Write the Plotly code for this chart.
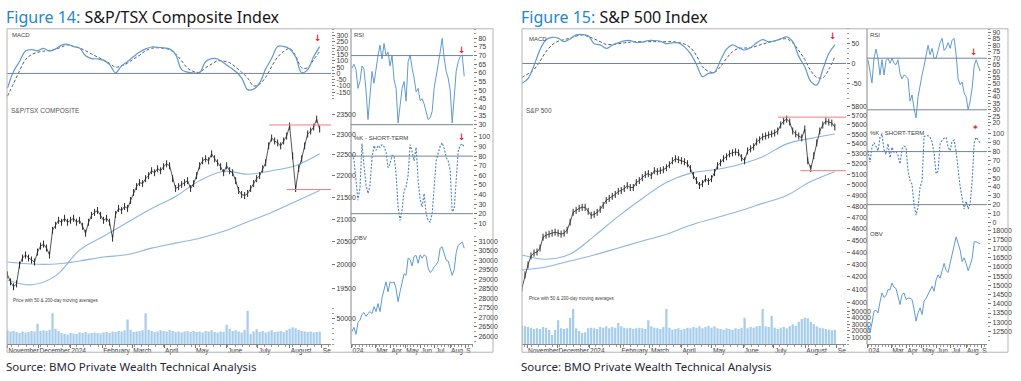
import pandas as pd
import plotly.graph_objects as go

W, H = 1021, 381


def fx(px):
    return px / W


def fy(py):
    return 1 - py / H


# ---------------- Figure 14: S&P/TSX Composite ----------------
tsx_price = [19790, 19642, 19538, 19600, 20000, 20149, 20213, 20149, 20106, 20063,
             20278, 20407, 20450, 20364, 20213, 20756, 20867, 20978, 20934, 21023,
             20934, 20978, 21023, 20934, 20978, 20845, 20690, 20934, 21089, 21156,
             21201, 21089, 20978, 21023, 20934, 20581, 21111, 21246, 21201, 21291,
             21246, 21428, 21611, 21749, 21841, 21818, 21934, 22004, 22121, 22074,
             22168, 22121, 22216, 22286, 22239, 21934, 21703, 21749, 21795, 21841,
             21888, 21703, 21818, 22004, 22239, 22357, 22405, 22357, 22524, 22405,
             22310, 22216, 22074, 22239, 22121, 22074, 21888, 21657, 21565, 21542,
             21588, 21703, 21818, 21934, 22004, 22168, 22310, 22716, 22909, 22836,
             22788, 22716, 22836, 22957, 23203, 22477, 21703, 22168, 22405, 22716,
             23006, 23080, 23178, 23376, 23129]
tsx_ma50 = [19683, 19580, 19768, 20321, 20625, 20934, 21246, 21519, 21888, 22109,
            22039, 22121, 22239, 22524]
tsx_ma200 = [20063, 20020, 20020, 20085, 20170, 20224, 20364, 20472, 20581, 20734,
             20945, 21156, 21406, 21657]
tsx_volume_k = [27, 25, 26, 24, 22, 25, 23, 24, 26, 25, 40, 26, 27, 26, 28, 60, 30, 26, 22, 20,
                19, 22, 21, 20, 23, 22, 24, 21, 22, 23, 22, 21, 23, 24, 22, 25, 24, 26, 25, 27,
                48, 28, 24, 25, 26, 27, 60, 28, 26, 24, 25, 27, 26, 25, 27, 26, 24, 25, 23, 25,
                26, 24, 26, 24, 25, 23, 26, 25, 27, 24, 23, 25, 24, 38, 30, 26, 27, 25, 23, 28,
                65, 20, 25, 29, 24, 26, 23, 25, 27, 24, 25, 26, 24, 27, 30, 33, 31, 28, 26, 25,
                24, 25, 23, 24, 25]
tsx_macd = [-116, 16, 95, 179, 190, 180, 200, 178, 195, 225, 232, 213, 202, 140, 118, 116,
            104, 70, 5, 60, 95, 134, 170, 195, 210, 208, 203, 195, 150, 30, 10, 3, 5, 95,
            118, 115, 85, 50, 15, -35, -129, -125, -75, 35, 120, 215, 215, 195, 130, 5, 30,
            134, 213]
tsx_signal = [-181, -80, 20, 110, 150, 168, 177, 183, 192, 210, 226, 215, 202, 180, 155, 130,
              108, 80, 50, 60, 82, 115, 145, 180, 200, 204, 200, 190, 155, 100, 42, 15, 10,
              45, 75, 100, 98, 85, 50, 10, -37, -100, -85, -30, 55, 130, 175, 198, 140, 45,
              45, 110, 175]
tsx_rsi = [62.7, 65, 62, 51, 55, 64, 62, 50, 33, 49, 60.8, 54, 63, 70, 76, 68, 77, 70, 72, 64,
           70, 56, 51, 31, 41, 51, 55, 43.6, 66.5, 70.4, 62.7, 57, 49, 51, 44, 45, 42, 38, 33,
           34, 37.6, 51, 57, 65, 72, 80, 68.5, 60.8, 57, 50, 31, 45, 60.8, 66.5, 69.4, 70.4, 58]
tsx_k = [82, 76, 55, 34, 47, 93, 70, 50, 41, 50, 78, 91, 86, 91, 89, 92, 90, 84, 68, 72, 81, 80,
         62, 27, 13, 24, 44, 48, 60, 92, 85, 75, 89, 55, 35, 27, 41, 20, 13, 11, 20, 50, 75, 83,
         90, 94, 88, 79, 75, 65, 22, 25, 62, 85, 91, 93, 89]
tsx_obv = [26260, 26470, 26100, 26730, 26850, 27150, 27250, 27050, 27200, 27300,
           27200, 27560, 27300, 27720, 27300, 28030, 28450, 28860, 28340, 28860,
           28800, 28860, 28500, 27820, 28350, 28860, 29290, 29200, 30110, 30030,
           29700, 30200, 30250, 29840, 30280, 30100, 30280, 30200, 29580, 29350,
           29450, 29650, 29760, 29930, 30630, 30700, 30370, 30000, 29950, 29600,
           29200, 29500, 30400, 30780, 30880, 30950, 30630]
tsx_levels = [23230, 21680]
tsx_level_starts = ["2024-07-12", "2024-07-29"]
tsx_price_ticks = [19500, 20000, 20500, 21000, 21500, 22000, 22500, 23000, 23500]
tsx_macd_ticks = [-150, -100, -50, 0, 50, 100, 150, 200, 250, 300]
tsx_vol_ticks = [50000]
tsx_obv_ticks = [26000, 26500, 27000, 27500, 28000, 28500, 29000, 29500, 30000, 30500, 31000]
tsx_rsi_ticks = [30, 35, 40, 45, 50, 55, 60, 65, 70, 75, 80]

# ---------------- Figure 15: S&P 500 ----------------
spx_price = [4114, 4216, 4296, 4369, 4393, 4402, 4435, 4527, 4544, 4553,
             4562, 4570, 4562, 4553, 4562, 4587, 4657, 4745, 4763, 4781,
             4790, 4790, 4754, 4718, 4727, 4745, 4772, 4808, 4853, 4871,
             4890, 4908, 4936, 4945, 4963, 4991, 4973, 4973, 5020, 5039,
             5067, 5096, 5105, 5086, 5134, 5124, 5134, 5143, 5163, 5192,
             5231, 5251, 5241, 5231, 5221, 5202, 5153, 5086, 5039, 4991,
             5010, 5057, 5029, 5057, 5115, 5182, 5212, 5251, 5271, 5300,
             5310, 5320, 5310, 5261, 5231, 5330, 5350, 5371, 5421, 5442,
             5472, 5482, 5493, 5503, 5513, 5534, 5597, 5639, 5660, 5628,
             5534, 5503, 5482, 5462, 5555, 5231, 5153, 5281, 5411, 5534,
             5597, 5639, 5628, 5618, 5576]
spx_ma50 = [4377, 4342, 4385, 4536, 4709, 4871, 5020, 5110, 5143, 5192, 5271, 5401, 5457, 5503]
spx_ma200 = [4255, 4279, 4328, 4377, 4435, 4494, 4553, 4631, 4692, 4754, 4826, 4899, 5029, 5124]
spx_volume_k = [28, 27, 26, 25, 23, 24, 23, 26, 25, 22, 14, 22, 36, 24, 23, 24, 40, 53, 24, 20,
                17, 18, 24, 25, 24, 23, 26, 25, 27, 24, 26, 25, 32, 27, 25, 24, 25, 23, 24, 25,
                24, 23, 36, 27, 25, 24, 23, 26, 53, 25, 22, 23, 24, 22, 23, 25, 24, 26, 25, 27,
                24, 26, 28, 25, 27, 24, 23, 22, 24, 23, 22, 24, 23, 25, 40, 24, 26, 25, 27, 28,
                53, 27, 26, 43, 25, 23, 25, 26, 24, 27, 30, 28, 34, 38, 40, 39, 34, 30, 27, 25,
                24, 23, 22, 21, 22]
spx_macd = [-50, -38, -5, 35, 60, 66, 64, 55, 62, 72, 73, 70, 50, 47, 38, 46, 52, 57, 58, 53,
            54, 58, 58, 56, 50, 52, 52, 42, 25, -2, -33, -25, -22, 8, 36, 47, 40, 34, 40, 52,
            60, 55, 57, 62, 67, 55, 18, -8, -45, -54, -15, 25, 47]
spx_signal = [-35, -26, -15, 6, 30, 47, 56, 60, 64, 69, 72, 68, 62, 55, 48, 48, 50, 52, 54, 55,
              55, 55, 55, 55, 55, 55, 53, 49, 40, 20, -8, -20, -22, -8, 13, 30, 38, 39, 40, 44,
              49, 53, 57, 61, 62, 52, 33, 10, -18, -35, -36, -15, 17]
spx_rsi = [68.8, 59.8, 50.8, 70, 77, 70, 57, 68.8, 57, 68, 70, 66, 70, 66, 65, 68.8, 58, 54, 57,
           56, 54, 36.7, 41.5, 31, 23.8, 40, 50, 57, 64, 72, 80, 72.6, 77.6, 70, 70, 76, 82, 85.4,
           76, 78, 82, 77.6, 84, 85.4, 72.6, 54, 49.5, 51.5, 43, 40, 30, 36.7, 47, 64, 68.8, 64, 60]
spx_k = [81, 68, 85, 90, 86, 81, 96, 100, 82, 77, 89, 73, 85, 79, 80, 76, 66, 83, 86, 85, 58, 47,
         43, 20, 8, 17, 40, 47, 97, 98, 98, 96, 91, 78, 55, 58, 89, 93, 95, 96, 85, 81, 92, 93, 80,
         58, 40, 28, 15, 24, 15, 21, 47, 90, 96, 93, 90]
spx_obv = [12790, 12430, 12950, 13600, 13650, 13500, 14100, 14590, 14350, 14450,
           14770, 14770, 15130, 14900, 14830, 14410, 13960, 14500, 14590, 14230,
           14320, 14300, 14230, 13700, 13060, 13510, 13780, 13420, 14140, 14300,
           14500, 14700, 14950, 14680, 15300, 15570, 15390, 15800, 16200, 15800,
           15700, 16200, 16700, 17300, 17640, 17280, 16920, 16290, 16500, 16200,
           15800, 16100, 16470, 17370, 17370, 17300, 17280]
spx_levels = [5681, 5134]
spx_level_starts = ["2024-07-05", "2024-07-27"]
spx_price_ticks = [4000, 4100, 4200, 4300, 4400, 4500, 4600, 4700, 4800, 4900, 5000,
                   5100, 5200, 5300, 5400, 5500, 5600, 5700, 5800]
spx_macd_ticks = [-50, 0, 50]
spx_vol_ticks = [10000, 20000, 30000, 40000, 50000]
spx_obv_ticks = [12500, 13000, 13500, 14000, 14500, 15000, 15500, 16000, 16500, 17000, 17500, 18000]
spx_rsi_ticks = [20, 25, 30, 35, 40, 45, 50, 55, 60, 65, 70, 75, 80, 85, 90]

k_ticks = [0, 10, 20, 30, 40, 50, 60, 70, 80, 90, 100]
rsi_ref = [70, 30]
k_ref = [80, 20]
macd_ref = [0]

main_months = ["2023-11-01", "2023-12-01", "2024-01-01", "2024-02-01", "2024-03-01", "2024-04-01",
               "2024-05-01", "2024-06-01", "2024-07-01", "2024-08-01", "2024-09-01"]
main_month_text = ["November", "December", "2024", "February", "March", "April", "May", "June",
                   "July", "August", "Se"]
panel_months = ["2024-01-12", "2024-03-01", "2024-04-01", "2024-05-01", "2024-06-01",
                "2024-07-01", "2024-08-01", "2024-09-01"]
panel_month_text = ["024", "Mar", "Apr", "May", "Jun", "Jul", "Aug", "S"]


def span(start, end, n):
    return pd.date_range(start, end, periods=n)


TICKFONT = dict(family="Liberation Sans, Arial, sans-serif", size=7, color="#3a3a3a")
MONTHFONT = dict(family="Liberation Sans, Arial, sans-serif", size=6.6, color="#3a3a3a")
LABFONT = dict(family="Liberation Sans, Arial, sans-serif", size=6.5, color="#555555")
PRICE_C = "#2b2b2b"
MA_C = "#8db6e0"
VOL_C = "#a7cdec"
LINE_C = "#5f9ad3"
SIG_C = "#5a5a5a"
REF_C = "#74839f"
RED_C = "#f27c7c"

fig = go.Figure()
shapes = []
annotations = []


def add_chart(xm, xp, ys, main_range, panel_range, main_start, main_end, panel_start, panel_end,
              price, ma50, ma200, vol_k, macd, signal, rsi, k, obv, levels, level_starts):
    yM, yP, yV, yR, yK, yO = ys
    pdates = span(main_start, main_end, len(price))
    fig.add_trace(go.Bar(x=pdates, y=[v * 1000 for v in vol_k], xaxis=xm, yaxis=yV,
                         marker=dict(color=VOL_C, line=dict(width=0))))
    fig.add_trace(go.Scatter(x=span(main_start, main_end, len(ma200)), y=ma200, mode="lines",
                             line=dict(color=MA_C, width=1.1, shape="spline"), xaxis=xm, yaxis=yP))
    fig.add_trace(go.Scatter(x=span(main_start, main_end, len(ma50)), y=ma50, mode="lines",
                             line=dict(color=MA_C, width=1.1, shape="spline"), xaxis=xm, yaxis=yP))
    fig.add_trace(go.Scatter(x=pdates, y=price, mode="lines+markers",
                             line=dict(color=PRICE_C, width=0.8),
                             marker=dict(symbol="line-ns", size=5,
                                         line=dict(color=PRICE_C, width=1)),
                             xaxis=xm, yaxis=yP))
    for lv, st in zip(levels, level_starts):
        fig.add_trace(go.Scatter(x=[st, main_range[1]], y=[lv, lv], mode="lines",
                                 line=dict(color=RED_C, width=1), xaxis=xm, yaxis=yP))
    mdates = span(main_start, main_end, len(macd))
    fig.add_trace(go.Scatter(x=mdates, y=signal, mode="lines",
                             line=dict(color=SIG_C, width=1, dash="3px,2px", shape="spline"),
                             xaxis=xm, yaxis=yM))
    fig.add_trace(go.Scatter(x=mdates, y=macd, mode="lines",
                             line=dict(color=LINE_C, width=1.2, shape="spline"), xaxis=xm, yaxis=yM))
    qd = span(panel_start, panel_end, len(rsi))
    fig.add_trace(go.Scatter(x=qd, y=rsi, mode="lines", line=dict(color=LINE_C, width=1),
                             xaxis=xp, yaxis=yR))
    fig.add_trace(go.Scatter(x=qd, y=k, mode="lines",
                             line=dict(color="#4d80bd", width=1.1, dash="2px,1.5px"),
                             xaxis=xp, yaxis=yK))
    fig.add_trace(go.Scatter(x=qd, y=obv, mode="lines", line=dict(color=LINE_C, width=1),
                             xaxis=xp, yaxis=yO))
    for v in macd_ref:
        shapes.append(dict(type="line", xref=f"{xm} domain", x0=0, x1=1, yref=yM, y0=v, y1=v,
                           line=dict(color=REF_C, width=1)))
    for v in rsi_ref:
        shapes.append(dict(type="line", xref=f"{xp} domain", x0=0, x1=1, yref=yR, y0=v, y1=v,
                           line=dict(color=REF_C, width=1)))
    for v in k_ref:
        shapes.append(dict(type="line", xref=f"{xp} domain", x0=0, x1=1, yref=yK, y0=v, y1=v,
                           line=dict(color=REF_C, width=1)))


add_chart("x", "x2", ["y", "y2", "y3", "y4", "y5", "y6"],
          ["2023-10-31 12:00", "2024-09-10"], ["2024-01-11", "2024-09-17"],
          "2023-11-01", "2024-08-30", "2024-01-13", "2024-08-30",
          tsx_price, tsx_ma50, tsx_ma200, tsx_volume_k, tsx_macd, tsx_signal,
          tsx_rsi, tsx_k, tsx_obv, tsx_levels, tsx_level_starts)
add_chart("x3", "x4", ["y7", "y8", "y9", "y10", "y11", "y12"],
          ["2023-10-27", "2024-09-10"], ["2024-01-11", "2024-09-13"],
          "2023-10-27", "2024-08-30", "2024-01-13", "2024-08-30",
          spx_price, spx_ma50, spx_ma200, spx_volume_k, spx_macd, spx_signal,
          spx_rsi, spx_k, spx_obv, spx_levels, spx_level_starts)


def xax(d0, d1, anchor, rng, vals, text):
    return dict(domain=[fx(d0), fx(d1)], anchor=anchor, type="date", range=rng,
                tickvals=vals, ticktext=text, ticklabelposition="outside right",
                ticks="outside", ticklen=3, tickcolor="#777", showline=True,
                linecolor="#8a8a8a", linewidth=1, showgrid=False, zeroline=False,
                tickfont=MONTHFONT, tickangle=0,
                minor=dict(ticks="outside", ticklen=2, tickcolor="#999", dtick=7 * 86400000,
                           showgrid=False))


def yax(p0, p1, anchor, rng, vals, log=False, minor=None):
    d = dict(domain=[fy(p1), fy(p0)], anchor=anchor, side="right", range=rng,
             tickvals=vals, ticktext=[str(v) for v in vals], ticks="outside", ticklen=3,
             tickcolor="#777", showgrid=False, zeroline=False, showline=False,
             tickfont=TICKFONT)
    if log:
        d["type"] = "log"
    if minor:
        d["minor"] = dict(ticks="outside", ticklen=2, tickcolor="#999", dtick=minor, showgrid=False)
    return d


lay = dict(
    xaxis=xax(7, 331, "y3", ["2023-10-31 12:00", "2024-09-10"], main_months, main_month_text),
    xaxis2=xax(351, 473, "y6", ["2024-01-11", "2024-09-17"], panel_months, panel_month_text),
    xaxis3=xax(522, 846, "y9", ["2023-10-27", "2024-09-10"], main_months, main_month_text),
    xaxis4=xax(867, 987, "y12", ["2024-01-11", "2024-09-13"], panel_months, panel_month_text),
    yaxis=yax(27, 100, "x", [-221, 355], tsx_macd_ticks, minor=25),
    yaxis2=yax(100, 305, "x", [4.28262, 4.37709], tsx_price_ticks, log=True),
    yaxis3=yax(305, 345, "x", [0, 77000], tsx_vol_ticks, minor=10000),
    yaxis4=yax(27, 128, "x2", [27.5, 85.5], tsx_rsi_ticks, minor=2.5),
    yaxis5=yax(128, 232, "x2", [0.7, 108.3], k_ticks[1:], minor=5),
    yaxis6=yax(232, 345, "x2", [25583, 31470], tsx_obv_ticks, minor=250),
    yaxis7=yax(27, 100, "x3", [-95, 87.5], spx_macd_ticks, minor=12.5),
    yaxis8=yax(100, 305, "x3", [3.60043, 3.76751], spx_price_ticks, log=True),
    yaxis9=yax(305, 345, "x3", [0, 59700], spx_vol_ticks, minor=5000),
    yaxis10=yax(27, 127, "x4", [15.9, 92.8], spx_rsi_ticks, minor=2.5),
    yaxis11=yax(127, 228, "x4", [-6.7, 106.7], k_ticks, minor=5),
    yaxis12=yax(228, 345, "x4", [11800, 18108], spx_obv_ticks, minor=250),
)

# frames and panel separators
for (l, r, sep) in [(7, 493, 351), (522, 1008, 867)]:
    shapes.append(dict(type="rect", xref="paper", yref="paper", x0=fx(l), x1=fx(r),
                       y0=fy(353), y1=fy(27), line=dict(color="#b4b4b4", width=1)))
    shapes.append(dict(type="line", xref="paper", yref="paper", x0=fx(sep), x1=fx(sep),
                       y0=fy(345), y1=fy(27), line=dict(color="#8a8a8a", width=1)))


def note(x, y, text, font, xanchor="left", yanchor="middle"):
    annotations.append(dict(x=fx(x), y=fy(y), xref="paper", yref="paper", text=text,
                            showarrow=False, xanchor=xanchor, yanchor=yanchor, font=font))


TITLE = dict(family="Noto Sans, Open Sans, sans-serif", size=16, color="#161616")
note(4, 15, "<span style='color:#1f86cc'>Figure 14:</span> S&P/TSX Composite Index", TITLE)
note(519, 15, "<span style='color:#1f86cc'>Figure 15:</span> S&P 500 Index", TITLE)
SRC = dict(family="Noto Sans, Open Sans, sans-serif", size=11.5, color="#1e2a38")
note(4, 367, "Source: BMO Private Wealth Technical Analysis", SRC)
note(519, 367, "Source: BMO Private Wealth Technical Analysis", SRC)

SMALL = dict(family="Liberation Sans, Arial, sans-serif", size=6, color="#444")
TINY = dict(family="Liberation Sans, Arial, sans-serif", size=4.6, color="#444")
note(10, 33, "MACD", SMALL)
note(9, 109, "S&P/TSX COMPOSITE", LABFONT)
note(11, 301, "Price with 50 & 200-day moving averages", TINY)
note(352, 33, "RSI", SMALL)
note(352, 137, "%K - SHORT-TERM", SMALL)
note(352, 238, "OBV", SMALL)
note(527, 37, "MACD", SMALL)
note(524, 109, "S&P 500", LABFONT)
note(527, 299, "Price with 50 & 200-day moving averages", TINY)
note(868, 33, "RSI", SMALL)
note(868, 132, "%K - SHORT-TERM", SMALL)
note(868, 234, "OBV", SMALL)

ARROW = dict(family="DejaVu Sans, sans-serif", size=9, color="#e8202a")
for (ax, ay, t) in [(318, 36, "↓"), (462, 48, "↓"), (462, 136, "↓"),
                    (833, 34, "↓"), (974, 50, "↓"), (975, 128, "*")]:
    note(ax, ay, f"<b>{t}</b>", ARROW, xanchor="center")

fig.update_layout(width=W, height=H, margin=dict(l=0, r=0, t=0, b=0),
                  paper_bgcolor="white", plot_bgcolor="white", showlegend=False,
                  bargap=0.25, shapes=shapes, annotations=annotations, **lay)

fig.write_html("out.html", config={"displayModeBar": False},
               post_script="document.body.style.margin='0';document.body.style.overflow='hidden';")
